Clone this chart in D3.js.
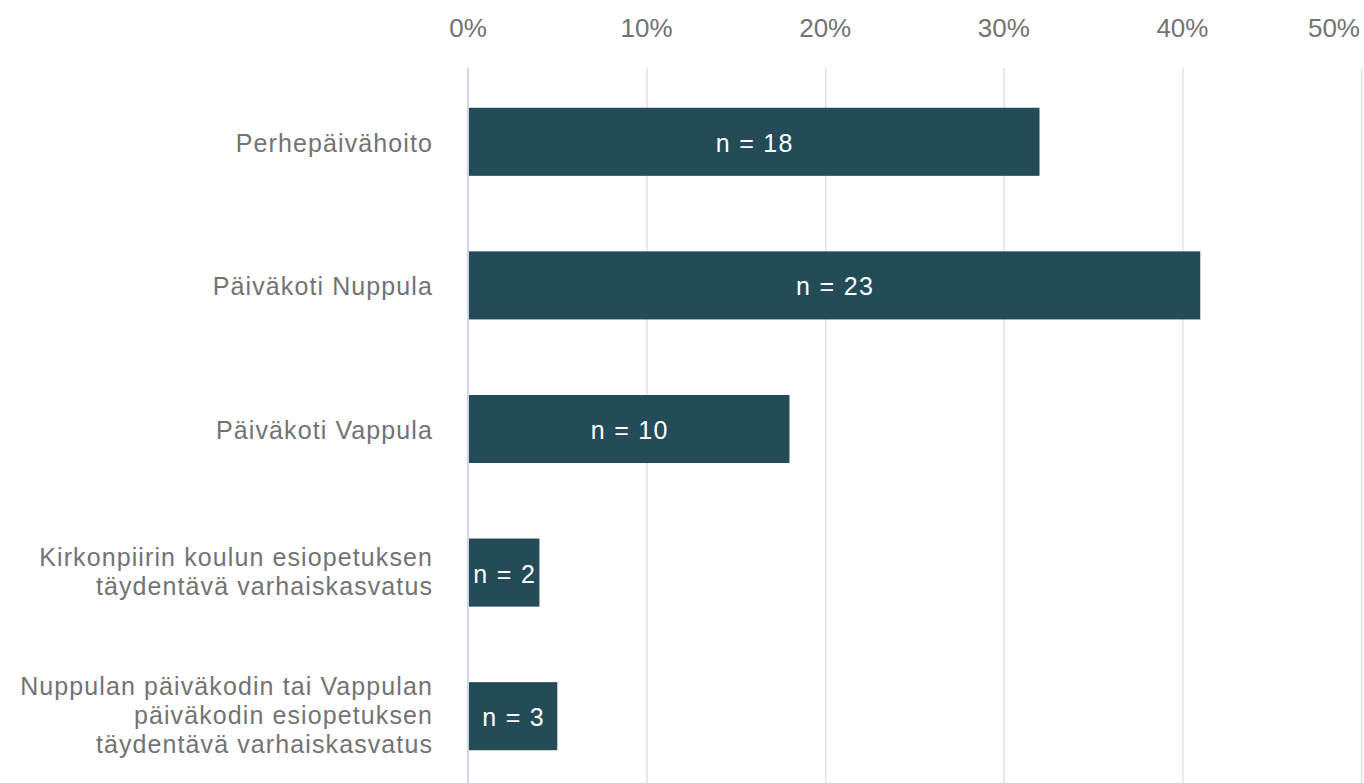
<!DOCTYPE html>
<html>
<head>
<meta charset="utf-8">
<script src="https://cdn.jsdelivr.net/npm/d3@7"></script>
<style>
  html, body { margin: 0; padding: 0; background: #fff; }
  svg { display: block; }
</style>
</head>
<body>
<div id="chart"></div>
<script>
// categories (line breaks as in the original chart) and values
const categories = [
  "Perhepäivähoito",
  "Päiväkoti Nuppula",
  "Päiväkoti Vappula",
  "Kirkonpiirin koulun esiopetuksen|täydentävä varhaiskasvatus",
  "Nuppulan päiväkodin tai Vappulan|päiväkodin esiopetuksen|täydentävä varhaiskasvatus"
];
const percents = [32, 41, 18, 4, 5];
const counts = [18, 23, 10, 2, 3];
const xTicks = [0, 10, 20, 30, 40, 50];

const width = 1364;
const height = 783;
const font = "'Liberation Sans', Arial, sans-serif";

const svg = d3.select("#chart").append("svg")
  .attr("width", width)
  .attr("height", height);

const x = d3.scaleLinear().domain([0, 50]).range([468, 1361]);
const y = d3.scaleBand()
  .domain(categories)
  .range([70, 788])
  .paddingInner(0.526)
  .paddingOuter(0.263);

// grid lines
svg.append("g")
  .selectAll("line")
  .data(xTicks.slice(1))
  .join("line")
  .attr("x1", d => x(d) + 0.5)
  .attr("x2", d => x(d) + 0.5)
  .attr("y1", 68)
  .attr("y2", height)
  .attr("stroke", "#e3e3e3")
  .attr("stroke-width", 1.5);

// top tick labels
svg.append("g")
  .selectAll("text")
  .data(xTicks)
  .join("text")
  .attr("x", d => d === 50 ? width - 4 : x(d))
  .attr("y", 37)
  .attr("text-anchor", d => d === 50 ? "end" : "middle")
  .attr("font-family", font)
  .attr("font-size", 26)
  .attr("fill", "#737373")
  .text(d => d + "%");

// bars
const rows = categories.map((c, i) => ({ cat: c, pct: percents[i], n: counts[i] }));

svg.append("g")
  .selectAll("rect")
  .data(rows)
  .join("rect")
  .attr("x", x(0))
  .attr("y", d => y(d.cat))
  .attr("width", d => x(d.pct) - x(0))
  .attr("height", y.bandwidth())
  .attr("fill", "#234b58");

// zero axis line
svg.append("line")
  .attr("x1", x(0))
  .attr("x2", x(0))
  .attr("y1", 68)
  .attr("y2", height)
  .attr("stroke", "#cdd6ee")
  .attr("stroke-width", 2);

// bar labels
svg.append("g")
  .selectAll("text")
  .data(rows)
  .join("text")
  .attr("x", d => (x(0) + x(d.pct)) / 2 + 1)
  .attr("y", d => y(d.cat) + y.bandwidth() / 2 + 10)
  .attr("text-anchor", "middle")
  .attr("font-family", font)
  .attr("font-size", 25)
  .attr("letter-spacing", 1.3)
  .attr("fill", "#ffffff")
  .text(d => "n = " + d.n);

// category labels
const lineH = 29;
const labels = svg.append("g")
  .selectAll("text")
  .data(rows)
  .join("text")
  .attr("text-anchor", "end")
  .attr("font-family", font)
  .attr("font-size", 25)
  .attr("letter-spacing", 1.1)
  .attr("fill", "#737373");

labels.each(function(d) {
  const lines = d.cat.split("|");
  const cy = y(d.cat) + y.bandwidth() / 2;
  const off = lines.length === 1 ? 10 : 8;
  const top = cy - (lines.length - 1) * lineH / 2 + off;
  d3.select(this).selectAll("tspan")
    .data(lines)
    .join("tspan")
    .attr("x", 433)
    .attr("y", (l, i) => top + i * lineH)
    .text(l => l);
});
</script>
</body>
</html>
